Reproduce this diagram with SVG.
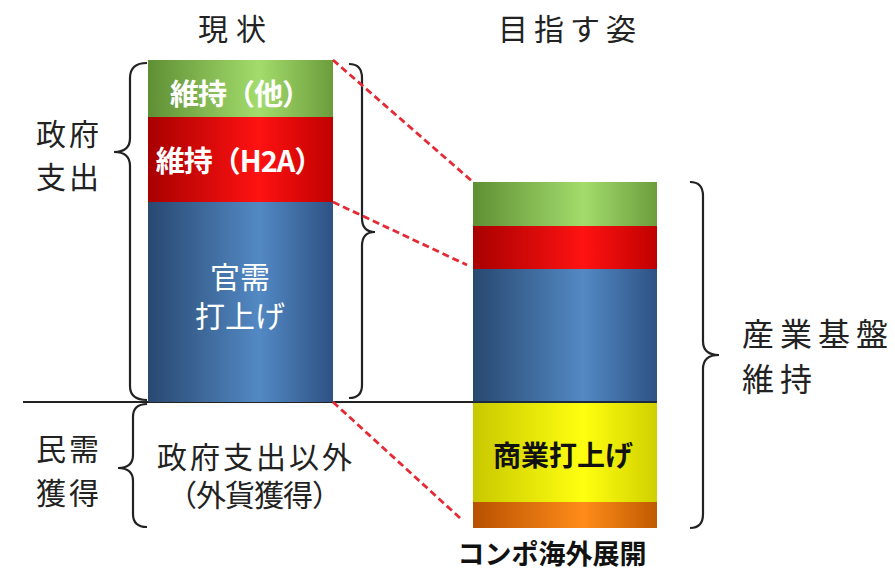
<svg xmlns="http://www.w3.org/2000/svg" width="895" height="571" viewBox="0 0 895 571">
<defs>
<linearGradient id="gGreen" x1="0" y1="0" x2="1" y2="0">
<stop offset="0" stop-color="#5f8f34"/><stop offset="0.6" stop-color="#a3dc6c"/><stop offset="1" stop-color="#6c9d3c"/>
</linearGradient>
<linearGradient id="gRed" x1="0" y1="0" x2="1" y2="0">
<stop offset="0" stop-color="#a80000"/><stop offset="0.6" stop-color="#ff1212"/><stop offset="1" stop-color="#c00000"/>
</linearGradient>
<linearGradient id="gBlue" x1="0" y1="0" x2="1" y2="0">
<stop offset="0" stop-color="#284870"/><stop offset="0.6" stop-color="#5389c4"/><stop offset="1" stop-color="#2e5284"/>
</linearGradient>
<linearGradient id="gYellow" x1="0" y1="0" x2="1" y2="0">
<stop offset="0" stop-color="#c8c800"/><stop offset="0.6" stop-color="#ffff10"/><stop offset="1" stop-color="#d0d000"/>
</linearGradient>
<linearGradient id="gOrange" x1="0" y1="0" x2="1" y2="0">
<stop offset="0" stop-color="#b85000"/><stop offset="0.6" stop-color="#ff8c1a"/><stop offset="1" stop-color="#c05a00"/>
</linearGradient>
<style>
text{font-family:"Noto Sans CJK JP","Liberation Sans",sans-serif;}
.lbl{font-size:30px;fill:#222;letter-spacing:3px;}
.wb{font-size:29px;fill:#fff;font-weight:bold;text-anchor:middle;}
.wn{font-size:30px;fill:#fff;text-anchor:middle;}
.bb{font-weight:bold;fill:#111;text-anchor:middle;}
.brace{fill:none;stroke:#222;stroke-width:2.2;}
.dash{fill:none;stroke:#e62a35;stroke-width:2.8;stroke-dasharray:7 4;}
</style>
</defs>

<g id="titles">
<text class="lbl" x="236" y="40" text-anchor="middle" style="letter-spacing:8px">現状</text>
<text class="lbl" x="570" y="40" text-anchor="middle" style="letter-spacing:6px">目指す姿</text>
</g>

<g id="baseline">
<line x1="23" y1="402" x2="657" y2="402" stroke="#222" stroke-width="2"/>
</g>

<g id="col-current">
<rect x="148" y="60" width="185" height="57" fill="url(#gGreen)"/>
<rect x="148" y="117" width="185" height="85" fill="url(#gRed)"/>
<rect x="148" y="202" width="185" height="200" fill="url(#gBlue)"/>
<text class="wb" x="240" y="105" style="letter-spacing:-1px">維持（他）</text>
<text class="wb" x="239" y="172" style="letter-spacing:-1px">維持（H2A）</text>
<text class="wn" x="240" y="288">官需</text>
<text class="wn" x="240" y="327">打上げ</text>
</g>

<g id="col-target">
<rect x="473" y="182" width="184" height="44" fill="url(#gGreen)"/>
<rect x="473" y="226" width="184" height="43" fill="url(#gRed)"/>
<rect x="473" y="269" width="184" height="133" fill="url(#gBlue)"/>
<rect x="473" y="402" width="184" height="100" fill="url(#gYellow)"/>
<rect x="473" y="502" width="184" height="26" fill="url(#gOrange)"/>
<line x1="473" y1="402" x2="657" y2="402" stroke="#1a2a40" stroke-width="2"/>
<text class="bb" x="563" y="466" style="font-size:28px">商業打上げ</text>
</g>

<g id="label-gov">
<text class="lbl" x="36" y="145">政府</text>
<text class="lbl" x="36" y="188">支出</text>
</g>
<g id="label-private">
<text class="lbl" x="36" y="460">民需</text>
<text class="lbl" x="36" y="504">獲得</text>
</g>
<g id="label-other">
<text class="lbl" x="256" y="468" text-anchor="middle">政府支出以外</text>
<text class="lbl" x="254" y="506" text-anchor="middle" style="letter-spacing:-1px">（外貨獲得）</text>
</g>
<g id="label-industry">
<text class="lbl" x="742" y="346" style="font-size:32px;letter-spacing:6px">産業基盤</text>
<text class="lbl" x="742" y="391" style="font-size:32px;letter-spacing:6px">維持</text>
</g>
<g id="label-combo">
<text class="bb" x="552" y="564" style="font-size:27px">コンポ海外展開</text>
</g>

<g id="connectors">
<path class="brace" d="M147,63 Q130,63 130,78 L130,138 Q130,152 114,152 Q130,152 130,166 L130,386 Q130,400 147,400"/>
<path class="brace" d="M349,64 Q362,64 362,78 L362,218 Q362,232 375,232 Q362,232 362,246 L362,385 Q362,398 349,398"/>
<path class="brace" d="M147,404 Q133,404 133,417 L133,455 Q133,468 118,468 Q133,468 133,481 L133,514 Q133,527 147,527"/>
<path class="brace" d="M690,182 Q703,182 703,196 L703,341 Q703,355 719,355 Q703,355 703,369 L703,514 Q703,528 690,528"/>
<path class="dash" d="M333,60 L473,182"/>
<path class="dash" d="M333,202 L467,265"/>
<path class="dash" d="M333,402 L460,518"/>
</g>
</svg>
